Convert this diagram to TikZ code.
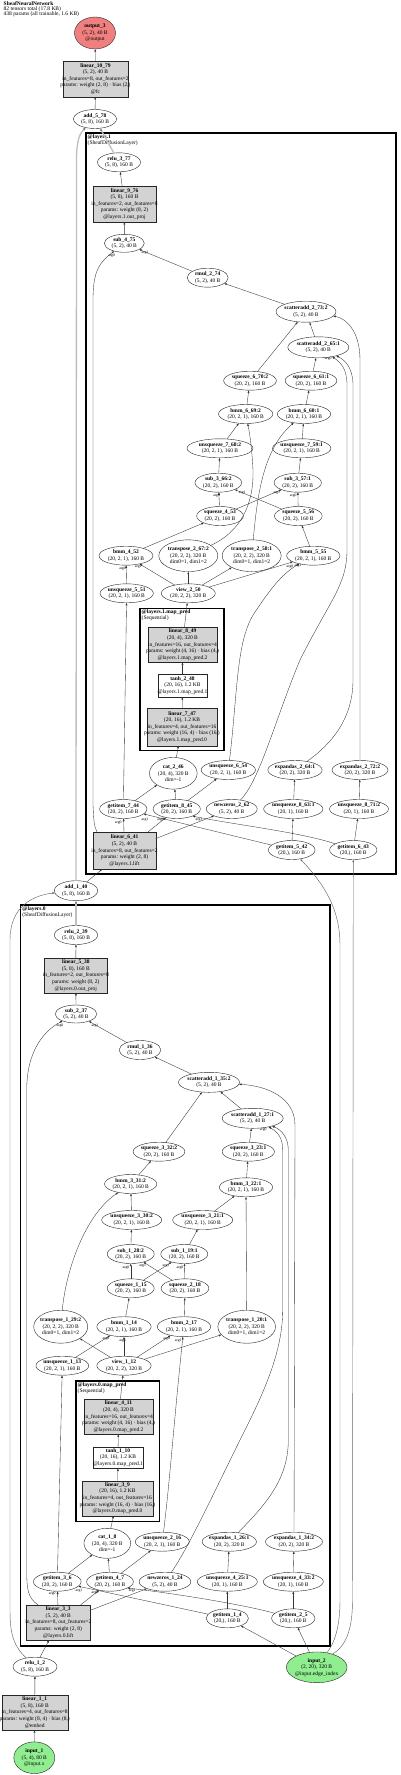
\documentclass[tikz,border=0pt]{standalone}
\usepackage{fontspec}
\setmainfont{Liberation Serif}
\usetikzlibrary{shapes.geometric,arrows.meta}
\definecolor{boxgray}{HTML}{D3D3D3}
\definecolor{outred}{HTML}{F08080}
\definecolor{ingreen}{HTML}{90EE90}
\definecolor{edgecol}{HTML}{333333}
\newcommand\fs{\fontsize{5.5}{6.6}\selectfont}
\newcommand\El[7][elnode]{\node[#1,minimum width=#5pt,minimum height=#6pt] (#2) at (#3,#4) {};\node[txt] (#2t) at (#2.center) {#7};}
\newcommand\Bx[7][boxnode]{\node[#1,minimum width=#5pt,minimum height=#6pt] (#2) at (#3,#4) {};\node[txt] (#2t) at (#2.center) {#7};}
\newcommand\Lb[4]{\node[lab] (#1) at (#2,#3) {#4};}
\tikzset{
  nd/.style={draw=black!85, line width=0.4pt, inner sep=0pt, outer sep=0pt},
  elnode/.style={nd, ellipse, fill=white},
  redel/.style={nd, ellipse, fill=outred},
  greenel/.style={nd, ellipse, fill=ingreen},
  boxnode/.style={nd, rectangle, fill=boxgray},
  wboxnode/.style={nd, rectangle, fill=white},
  txt/.style={align=center, font=\fs, inner sep=0pt},
  e/.style={draw=edgecol, line width=0.35pt, -{Latex[length=2.6pt,width=2pt]}},
  ge/.style={draw=black!25, line width=1.3pt, -{Latex[length=2.8pt,width=2.4pt,color=black!55]}},
  te/.style={draw=black!60, line width=0.45pt, -{Latex[length=2.6pt,width=2pt]}},
  lab/.style={font=\fontsize{3.8}{4}\selectfont, inner sep=0pt},
  clus/.style={draw=black, line width=1.4pt},
  subclus/.style={draw=black, line width=1.2pt},
  clab/.style={anchor=north west, align=left, font=\fontsize{5.5}{5}\selectfont, inner sep=0pt},
}
\begin{document}
\begin{tikzpicture}[x=1pt,y=-1pt]
\useasboundingbox (0,0) rectangle (400,1775);
\fill[white] (0,0) rectangle (400,1775);
\node[clab] (hdr) at (3.5,1.5) {\textbf{SheafNeuralNetwork}\\82 tensors total (17.8 KB)\\438 params (all trainable, 1.6 KB)};

% clusters
\draw[clus] (86,133) rectangle (396,874);
\node[clab] (c1lab) at (87.5,134) {\textbf{@layers.1}\\(SheafDiffusionLayer)};
\draw[subclus] (140,608.3) rectangle (224,750.7);
\node[clab] (c1mlab) at (141.5,609.5) {\textbf{@layers.1.map\_pred}\\(Sequential)};
\draw[clus] (20.7,905) rectangle (330,1646);
\node[clab] (c0lab) at (22.2,906) {\textbf{@layers.0}\\(SheafDiffusionLayer)};
\draw[subclus] (76,1381) rectangle (159.3,1521.7);
\node[clab] (c0mlab) at (77.5,1382.2) {\textbf{@layers.0.map\_pred}\\(Sequential)};

% top
\El[redel]{out3}{95}{33}{41}{32}{\textbf{output\_3}\\(5, 2), 40 B\\@output}
\Bx{l1079}{95.5}{79}{65.6}{35.7}{\textbf{linear\_10\_79}\\(5, 2), 40 B\\in\_features=8, out\_features=2\\params: weight (2, 8) · bias (2,)\\@fc}
\El{a578}{95}{119}{43}{19}{\textbf{add\_5\_78}\\(5, 8), 160 B}

% layer 1
\El{r377}{119}{162.3}{43}{19}{\textbf{relu\_3\_77}\\(5, 8), 160 B}
\Bx{l976}{124.5}{204}{62.4}{35.7}{\textbf{linear\_9\_76}\\(5, 8), 160 B\\in\_features=2, out\_features=8\\params: weight (8, 2)\\@layers.1.out\_proj}
\El{s475}{124.3}{243.3}{40}{18}{\textbf{sub\_4\_75}\\(5, 2), 40 B}
\El{rm274}{207.7}{277.7}{41}{19}{\textbf{rmul\_2\_74}\\(5, 2), 40 B}
\El{sa273}{306}{311.7}{60}{21}{\textbf{scatteradd\_2\_73:2}\\(5, 2), 40 B}
\El{sa265}{318.3}{347.3}{61}{21}{\textbf{scatteradd\_2\_65:1}\\(5, 2), 40 B}
\El{sq670}{250}{380.7}{52.7}{19}{\textbf{squeeze\_6\_70:2}\\(20, 2), 160 B}
\El{sq661}{311}{380.7}{51.7}{19}{\textbf{squeeze\_6\_61:1}\\(20, 2), 160 B}
\El{bm669}{245.7}{414}{54.3}{19}{\textbf{bmm\_6\_69:2}\\(20, 2, 1), 160 B}
\El{bm660}{304}{414}{53.3}{19}{\textbf{bmm\_6\_60:1}\\(20, 2, 1), 160 B}
\El{us768}{220}{448.3}{66}{19}{\textbf{unsqueeze\_7\_68:2}\\(20, 2, 1), 160 B}
\El{us759}{301.7}{448.3}{58.3}{19}{\textbf{unsqueeze\_7\_59:1}\\(20, 2, 1), 160 B}
\El{sb366}{218.3}{482.7}{46.7}{19}{\textbf{sub\_3\_66:2}\\(20, 2), 160 B}
\El{sb357}{297.7}{482.7}{47.3}{19}{\textbf{sub\_3\_57:1}\\(20, 2), 160 B}
\El{sq453}{220}{516}{46.7}{19}{\textbf{squeeze\_4\_53}\\(20, 2), 160 B}
\El{sq556}{298.3}{516}{47.7}{19}{\textbf{squeeze\_5\_56}\\(20, 2), 160 B}
\El{bm452}{126}{555.7}{54}{19}{\textbf{bmm\_4\_52}\\(20, 2, 1), 160 B}
\El{tr267}{188.3}{555.7}{59}{31.7}{\textbf{transpose\_2\_67:2}\\(20, 2, 2), 320 B\\dim0=1, dim1=2}
\El{tr258}{251.7}{555.7}{59}{31.7}{\textbf{transpose\_2\_58:1}\\(20, 2, 2), 320 B\\dim0=1, dim1=2}
\El{bm555}{313.3}{555.7}{53.3}{19}{\textbf{bmm\_5\_55}\\(20, 2, 1), 160 B}
\El{us551}{126.7}{593.3}{53.3}{19}{\textbf{unsqueeze\_5\_51}\\(20, 2, 1), 160 B}
\El{vw250}{188.3}{593.3}{54}{19}{\textbf{view\_2\_50}\\(20, 2, 2), 320 B}
\Bx{l849}{182.5}{644.8}{68.4}{35}{\textbf{linear\_8\_49}\\(20, 4), 320 B\\in\_features=16, out\_features=4\\params: weight (4, 16) · bias (4,)\\@layers.1.map\_pred.2}
\Bx[wboxnode]{th248}{182.5}{685.5}{49.6}{22.4}{\textbf{tanh\_2\_48}\\(20, 16), 1.2 KB\\@layers.1.map\_pred.1}
\Bx{l747}{182}{727}{70.6}{37.4}{\textbf{linear\_7\_47}\\(20, 16), 1.2 KB\\in\_features=4, out\_features=16\\params: weight (16, 4) · bias (16,)\\@layers.1.map\_pred.0}
\El{ct246}{173.3}{773.3}{47.7}{31.7}{\textbf{cat\_2\_46}\\(20, 4), 320 B\\dim=-1}
\El{us654}{228.3}{770}{54.3}{19}{\textbf{unsqueeze\_6\_54}\\(20, 2, 1), 160 B}
\El{ea264}{295}{770}{54.3}{19}{\textbf{expandas\_2\_64:1}\\(20, 2), 320 B}
\El{ea272}{360}{770}{56}{19}{\textbf{expandas\_2\_72:2}\\(20, 2), 320 B}
\El{gi744}{123.3}{809}{47.3}{19}{\textbf{getitem\_7\_44}\\(20, 2), 160 B}
\El{gi845}{176.7}{809}{47.3}{19}{\textbf{getitem\_8\_45}\\(20, 2), 160 B}
\El{nz262}{231.7}{809}{51}{19}{\textbf{newzeros\_2\_62}\\(5, 2), 40 B}
\El{us863}{293.3}{809}{59.3}{19}{\textbf{unsqueeze\_8\_63:1}\\(20, 1), 160 B}
\El{us871}{359}{809}{59}{19}{\textbf{unsqueeze\_8\_71:2}\\(20, 1), 160 B}
\Bx{l641}{124.5}{850.7}{62.4}{36.7}{\textbf{linear\_6\_41}\\(5, 2), 40 B\\in\_features=8, out\_features=2\\params: weight (2, 8)\\@layers.1.lift}
\El{gi542}{291.7}{850}{46.7}{19}{\textbf{getitem\_5\_42}\\(20,), 160 B}
\El{gi643}{353.3}{850}{47.3}{19}{\textbf{getitem\_6\_43}\\(20,), 160 B}

\El{a140}{76}{890.7}{43.3}{20}{\textbf{add\_1\_40}\\(5, 8), 160 B}

% layer 0
\El{r239}{76}{935}{43.3}{19}{\textbf{relu\_2\_39}\\(5, 8), 160 B}
\Bx{l538}{75.8}{975.5}{63}{34.4}{\textbf{linear\_5\_38}\\(5, 8), 160 B\\in\_features=2, out\_features=8\\params: weight (8, 2)\\@layers.0.out\_proj}
\El{s237}{76}{1014}{41.7}{18}{\textbf{sub\_2\_37}\\(5, 2), 40 B}
\El{rm136}{140}{1050}{41.7}{19}{\textbf{rmul\_1\_36}\\(5, 2), 40 B}
\El{sa135}{209}{1082.3}{61}{20}{\textbf{scatteradd\_1\_35:2}\\(5, 2), 40 B}
\El{sa127}{252.7}{1118.3}{61}{20}{\textbf{scatteradd\_1\_27:1}\\(5, 2), 40 B}
\El{sq332}{159}{1151.7}{51.7}{19}{\textbf{squeeze\_3\_32:2}\\(20, 2), 160 B}
\El{sq323}{248.3}{1151.7}{52.3}{19}{\textbf{squeeze\_3\_23:1}\\(20, 2), 160 B}
\El{bm331}{130.7}{1184}{52.3}{19}{\textbf{bmm\_3\_31:2}\\(20, 2, 1), 160 B}
\El{bm322}{246}{1187.3}{53.3}{19}{\textbf{bmm\_3\_22:1}\\(20, 2, 1), 160 B}
\El{us330}{131.7}{1220}{60}{19}{\textbf{unsqueeze\_3\_30:2}\\(20, 2, 1), 160 B}
\El{us321}{202.7}{1220}{60}{19}{\textbf{unsqueeze\_3\_21:1}\\(20, 2, 1), 160 B}
\El{sb128}{130.7}{1254}{47}{19}{\textbf{sub\_1\_28:2}\\(20, 2), 160 B}
\El{sb119}{184.3}{1254}{47}{19}{\textbf{sub\_1\_19:1}\\(20, 2), 160 B}
\El{sq115}{130.7}{1288.3}{47}{19}{\textbf{squeeze\_1\_15}\\(20, 2), 160 B}
\El{sq218}{185}{1288.3}{47.7}{19}{\textbf{squeeze\_2\_18}\\(20, 2), 160 B}
\El{tr129}{60.7}{1326.7}{54}{33}{\textbf{transpose\_1\_29:2}\\(20, 2, 2), 320 B\\dim0=1, dim1=2}
\El{bm114}{124}{1326.7}{54.3}{20}{\textbf{bmm\_1\_14}\\(20, 2, 1), 160 B}
\El{bm217}{184}{1326.7}{53.3}{20}{\textbf{bmm\_2\_17}\\(20, 2, 1), 160 B}
\El{tr120}{246.7}{1326.7}{57.7}{33}{\textbf{transpose\_1\_20:1}\\(20, 2, 2), 320 B\\dim0=1, dim1=2}
\El{us113}{62.3}{1365.7}{52.7}{19}{\textbf{unsqueeze\_1\_13}\\(20, 2, 1), 160 B}
\El{vw112}{124}{1365.7}{54.3}{19}{\textbf{view\_1\_12}\\(20, 2, 2), 320 B}
\Bx{l411}{118.5}{1416.8}{68.4}{35}{\textbf{linear\_4\_11}\\(20, 4), 320 B\\in\_features=16, out\_features=4\\params: weight (4, 16) · bias (4,)\\@layers.0.map\_pred.2}
\Bx[wboxnode]{th110}{118}{1457.5}{49.4}{21.6}{\textbf{tanh\_1\_10}\\(20, 16), 1.2 KB\\@layers.0.map\_pred.1}
\Bx{l39}{117.5}{1498.2}{70.4}{35}{\textbf{linear\_3\_9}\\(20, 16), 1.2 KB\\in\_features=4, out\_features=16\\params: weight (16, 4) · bias (16,)\\@layers.0.map\_pred.0}
\El{ct18}{107.3}{1543.3}{46.7}{30}{\textbf{cat\_1\_8}\\(20, 4), 320 B\\dim=-1}
\El{us216}{162.3}{1541.7}{54}{19}{\textbf{unsqueeze\_2\_16}\\(20, 2, 1), 160 B}
\El{ea126}{229.3}{1541.7}{54.3}{19}{\textbf{expandas\_1\_26:1}\\(20, 2), 320 B}
\El{ea134}{294}{1541.7}{57}{19}{\textbf{expandas\_1\_34:2}\\(20, 2), 320 B}
\El{gi36}{57.3}{1581.7}{47.7}{19}{\textbf{getitem\_3\_6}\\(20, 2), 160 B}
\El{gi47}{110}{1581.7}{46.7}{19}{\textbf{getitem\_4\_7}\\(20, 2), 160 B}
\El{nz124}{165}{1581.7}{51.7}{19}{\textbf{newzeros\_1\_24}\\(5, 2), 40 B}
\El{us425}{227.3}{1581.7}{60}{19}{\textbf{unsqueeze\_4\_25:1}\\(20, 1), 160 B}
\El{us433}{293.3}{1581.7}{60}{19}{\textbf{unsqueeze\_4\_33:2}\\(20, 1), 160 B}
\Bx{l33}{58.3}{1622.5}{63.3}{35}{\textbf{linear\_3\_3}\\(5, 2), 40 B\\in\_features=8, out\_features=2\\params: weight (2, 8)\\@layers.0.lift}
\El{gi14}{227.3}{1618.3}{42.3}{19}{\textbf{getitem\_1\_4}\\(20,), 160 B}
\El{gi25}{293.3}{1618.3}{43.3}{19}{\textbf{getitem\_2\_5}\\(20,), 160 B}

% bottom
\El[greenel]{in2}{316.7}{1667.3}{60.7}{30.7}{\textbf{input\_2}\\(2, 20), 320 B\\@input.edge\_index}
\El{r12}{35}{1666.7}{44}{19}{\textbf{relu\_1\_2}\\(5, 8), 160 B}
\Bx{l11}{34.7}{1712.5}{66}{35}{\textbf{linear\_1\_1}\\(5, 8), 160 B\\in\_features=4, out\_features=8\\params: weight (8, 4) · bias (8,)\\@embed}
\El[greenel]{in1}{34.3}{1757.7}{41}{31.7}{\textbf{input\_1}\\(5, 4), 80 B\\@input.x}

% ---------- edges: top & layer 1
\draw[e] (l1079) -- (out3);
\draw[e] (a578) -- (l1079);
\draw[ge] (r377) -- (a578);
\draw[ge] (a140) -- (76.5,160) .. controls (76.5,140) and (80,133) .. (a578);
\draw[e] (l976) -- (r377);
\draw[e] (s475) -- (l976);
\draw[e] (rm274) -- (s475);
\draw[e] (l641.146) .. controls (94,825) .. (93,805) -- (93,300) .. controls (93,270) and (100,262) .. (s475);
\draw[e] (sa273) -- (rm274);
\draw[e] (sa265) -- (sa273);
\draw[e] (sq670) -- (sa273);
\draw[e] (ea272) -- (360,360) .. controls (360,330) and (345,318) .. (sa273);
\draw[e] (sq661) -- (sa265);
\draw[e] (nz262) .. controls (260,780) and (275,720) .. (300,660) .. controls (330,600) and (347,585) .. (347,550) -- (347,385) .. controls (347,368) and (340,362) .. (sa265);
\draw[e] (ea264) .. controls (330,745) and (353,720) .. (353,680) -- (353,385) .. controls (353,368) and (345,360) .. (sa265);
\draw[e] (bm669) -- (sq670);
\draw[e] (bm660) -- (sq661);
\draw[e] (us768) -- (bm669);
\draw[e] (tr267) .. controls (240,532) and (254,505) .. (253,470) .. controls (252,450) and (250,435) .. (bm669);
\draw[e] (us759) -- (bm660);
\draw[e] (tr258) .. controls (257,500) and (262,450) .. (bm660);
\draw[e] (sb366) -- (us768);
\draw[e] (sb357) -- (us759);
\draw[e] (sq453) -- (sb366);
\draw[e] (sq453) -- (sb357);
\draw[e] (sq556) -- (sb357);
\draw[e] (sq556) -- (sb366);
\draw[e] (bm452) -- (sq453);
\draw[e] (bm555) -- (sq556);
\draw[e] (us551) -- (bm452);
\draw[e] (vw250) -- (bm452);
\draw[e] (vw250) -- (tr267);
\draw[e] (vw250) -- (tr258);
\draw[e] (vw250) -- (bm555);
\draw[e] (us654) .. controls (238,690) and (236,640) .. (255,612) .. controls (268,593) and (280,575) .. (bm555);
\draw[e] (l849) -- (vw250);
\draw[e] (th248) -- (l849);
\draw[e] (l747) -- (th248);
\draw[e] (ct246) -- (l747);
\draw[e] (gi744) -- (ct246);
\draw[e] (gi845) -- (ct246);
\draw[e] (gi845) -- (us654);
\draw[e] (gi744) -- (us551);
\draw[e] (us863) -- (ea264);
\draw[e] (us871) -- (ea272);
\draw[e] (l641) -- (gi744);
\draw[e] (l641) -- (gi845);
\draw[e] (l641) -- (nz262);
\draw[e] (gi542) -- (gi744);
\draw[e] (gi643.161) .. controls (300,832) and (230,824) .. (gi845.-24);
\draw[e] (gi542) -- (us863);
\draw[e] (gi643) -- (us871);
\draw[e] (a140) -- (l641);
\draw[te] (in2.55) .. controls (337,1640) and (340,1620) .. (340,1600) -- (340,945) .. controls (340,910) and (325,885) .. (gi542);
\draw[te] (in2.40) .. controls (348,1645) and (352.5,1625) .. (352.5,1600) -- (gi643);

% ---------- layer 0
\draw[ge] (r239) -- (a140);
\draw[te] (r12.135) .. controls (12,1645) and (10,1630) .. (10,1610) -- (10,940) .. controls (10,905) and (35,895) .. (a140);
\draw[e] (l538) -- (r239);
\draw[e] (s237) -- (l538);
\draw[e] (rm136) -- (s237);
\draw[e] (l33.139) .. controls (28,1598) and (26.7,1590) .. (26.7,1570) -- (26.7,1090) .. controls (26.7,1050) and (45,1030) .. (s237);
\draw[e] (sa135) -- (rm136);
\draw[e] (sa127) -- (sa135);
\draw[e] (sq332) -- (sa135);
\draw[e] (ea134) -- (295,1125) .. controls (295,1098) and (268,1086) .. (sa135);
\draw[e] (sq323) -- (sa127);
\draw[e] (nz124) .. controls (190,1545) and (215,1490) .. (245,1430) .. controls (265,1390) and (282.7,1350) .. (282.7,1310) -- (282.7,1150) .. controls (282.7,1138) and (278,1132) .. (sa127);
\draw[e] (ea126) .. controls (265,1505) and (288.3,1480) .. (288.3,1440) -- (288.3,1150) .. controls (288.3,1138) and (282,1130) .. (sa127);
\draw[e] (bm331) -- (sq332);
\draw[e] (bm322) -- (sq323);
\draw[e] (us330) -- (bm331);
\draw[e] (tr129) .. controls (66,1270) and (85,1215) .. (bm331);
\draw[e] (us321) -- (bm322);
\draw[e] (tr120) -- (bm322);
\draw[e] (sb128) -- (us330);
\draw[e] (sb119) -- (us321);
\draw[e] (sq115) -- (sb128);
\draw[e] (sq115) -- (sb119);
\draw[e] (sq218) -- (sb119);
\draw[e] (sq218) -- (sb128);
\draw[e] (bm114) -- (sq115);
\draw[e] (bm217) -- (sq218);
\draw[e] (us113) -- (bm114);
\draw[e] (vw112) -- (bm114);
\draw[e] (vw112) -- (tr129);
\draw[e] (vw112) -- (bm217);
\draw[e] (us216) .. controls (170,1480) and (174,1420) .. (bm217);
\draw[e] (vw112) -- (tr120);
\draw[e] (l411) -- (vw112);
\draw[e] (th110) -- (l411);
\draw[e] (l39) -- (th110);
\draw[e] (ct18) -- (l39);
\draw[e] (gi36) -- (ct18);
\draw[e] (gi47) -- (ct18);
\draw[e] (gi47) -- (us216);
\draw[e] (gi36) -- (us113);
\draw[e] (us425) -- (ea126);
\draw[e] (us433) -- (ea134);
\draw[e] (l33) -- (gi36);
\draw[e] (l33) -- (gi47);
\draw[e] (l33) -- (nz124);
\draw[e] (gi14) -- (gi36);
\draw[e] (gi25.165) .. controls (250,1606) and (180,1594) .. (gi47.-20);
\draw[e] (gi14) -- (us425);
\draw[e] (gi25) -- (us433);
\draw[e] (in2) -- (gi14);
\draw[e] (in2) -- (gi25);
\draw[e] (r12) -- (l33);
\draw[e] (l11) -- (r12);
\draw[e] (in1) -- (l11);

% ---------- edge labels
\Lb{lb1}{111.7}{256}{arg0}
\Lb{lb2}{145}{252.5}{arg1}
\Lb{lb3}{328.3}{358.3}{arg0}
\Lb{lb4}{216.7}{496}{arg0}
\Lb{lb5}{242.3}{492.3}{arg1}
\Lb{lb6}{276.7}{492.3}{arg1}
\Lb{lb7}{293.3}{496}{arg0}
\Lb{lb8}{122.7}{568.3}{arg0}
\Lb{lb9}{138.3}{566.7}{arg1}
\Lb{lb10}{290}{567}{arg0}
\Lb{lb11}{298}{565.5}{arg1}
\Lb{lb12}{118.3}{822.7}{arg0}
\Lb{lb13}{145}{819.3}{arg1}
\Lb{lb14}{160.7}{820}{arg0}
\Lb{lb15}{199}{819.3}{arg1}
\Lb{lb16}{60}{1026}{arg0}
\Lb{lb17}{95}{1026}{arg1}
\Lb{lb18}{263.3}{1129.3}{arg0}
\Lb{lb19}{126}{1267.7}{arg0}
\Lb{lb20}{142.7}{1266}{arg1}
\Lb{lb21}{166}{1266}{arg1}
\Lb{lb22}{180}{1267.7}{arg0}
\Lb{lb23}{106}{1338.3}{arg0}
\Lb{lb24}{122.7}{1341}{arg1}
\Lb{lb25}{166.7}{1338.3}{arg0}
\Lb{lb26}{178.3}{1341}{arg1}
\Lb{lb27}{52.3}{1594}{arg0}
\Lb{lb28}{79}{1590.7}{arg1}
\Lb{lb29}{95}{1592.7}{arg0}
\Lb{lb30}{132.3}{1590.7}{arg1}
\end{tikzpicture}
\end{document}
